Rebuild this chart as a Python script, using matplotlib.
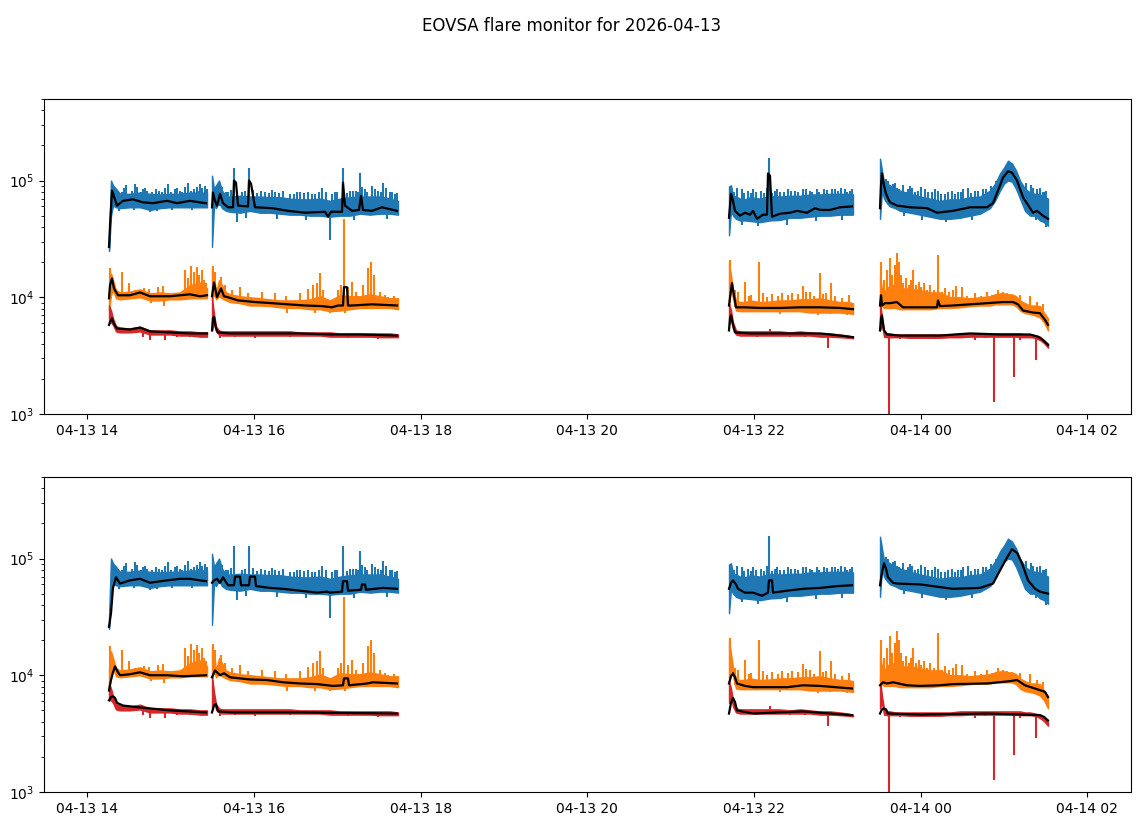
import numpy as np
import matplotlib
matplotlib.use("Agg")
import matplotlib.pyplot as plt
import matplotlib.dates as mdates
from datetime import datetime

TITLE = "EOVSA flare monitor for 2026-04-13"
DAY0 = datetime(2026, 4, 13)          # times below are hours after this day's 00:00
X_RANGE_H = (13.48, 26.524)
Y_RANGE = (1e3, 5e5)

BLUE, ORANGE, RED = "#1f77b4", "#ff7f0e", "#d62728"

# ---- sampling grid (hours) for the four observing segments ----
grid_t = [
    [14.260, 14.284, 14.308, 14.344, 14.392, 14.512, 14.632, 14.752, 14.872, 14.992, 15.112, 15.232, 15.352, 15.436],
    [15.496, 15.520, 15.544, 15.580, 15.616, 15.664, 15.712, 15.832, 15.952, 16.072, 16.192, 16.312, 16.432, 16.552,
     16.672, 16.792, 16.912, 17.032, 17.152, 17.272, 17.392, 17.512, 17.632, 17.728],
    [21.700, 21.724, 21.748, 21.784, 21.832, 21.892, 21.952, 22.072, 22.192, 22.312, 22.432, 22.552, 22.672, 22.792,
     22.912, 23.032, 23.128, 23.188],
    [23.512, 23.536, 23.560, 23.596, 23.632, 23.692, 23.752, 23.872, 23.992, 24.112, 24.232, 24.352, 24.472, 24.592,
     24.712, 24.832, 24.892, 24.952, 25.000, 25.048, 25.096, 25.144, 25.192, 25.252, 25.312, 25.372, 25.432, 25.480, 25.528],
]

# ---- noise envelopes (upper / lower) of the three channels ----
blue_hi = [
    [3.1e4, 1.0e5, 9.1e4, 8.5e4, 7.7e4, 7.7e4, 7.9e4, 7.7e4, 7.6e4, 7.7e4, 7.7e4, 7.9e4, 7.9e4, 7.9e4],
    [1.1e5, 8.5e4, 9.1e4, 1.0e5, 8.2e4, 7.3e4, 7.3e4, 7.4e4, 7.3e4, 7.3e4, 7.2e4, 7.2e4, 7.0e4, 6.9e4, 6.9e4, 7.0e4,
     6.7e4, 7.0e4, 7.2e4, 7.3e4, 7.3e4, 7.3e4, 7.0e4, 6.7e4],
    [8.9e4, 9.1e4, 7.4e4, 7.3e4, 7.0e4, 6.9e4, 7.2e4, 7.0e4, 7.4e4, 7.3e4, 7.4e4, 7.4e4, 7.6e4, 7.6e4, 7.7e4, 7.7e4,
     7.7e4, 7.6e4],
    [1.54e5, 1.22e5, 9.6e4, 9.4e4, 9.1e4, 8.5e4, 8.2e4, 7.7e4, 7.3e4, 7.0e4, 6.7e4, 6.9e4, 6.9e4, 7.2e4, 7.3e4, 8.2e4,
     9.4e4, 1.15e5, 1.29e5, 1.48e5, 1.40e5, 1.22e5, 1.0e5, 8.5e4, 7.9e4, 7.7e4, 7.6e4, 7.3e4, 7.0e4],
]
blue_lo = [
    [2.5e4, 5.0e4, 6.1e4, 5.9e4, 5.8e4, 5.9e4, 5.9e4, 5.6e4, 5.8e4, 5.9e4, 5.9e4, 5.9e4, 5.9e4, 5.9e4],
    [2.7e4, 6.1e4, 5.8e4, 6.5e4, 5.8e4, 5.5e4, 5.4e4, 5.3e4, 5.5e4, 5.3e4, 5.3e4, 5.2e4, 5.1e4, 5.1e4, 5.0e4, 5.0e4,
     4.9e4, 5.0e4, 5.0e4, 5.2e4, 5.1e4, 5.2e4, 5.2e4, 5.1e4],
    [3.4e4, 5.5e4, 5.0e4, 4.7e4, 4.55e4, 4.55e4, 4.5e4, 4.4e4, 4.55e4, 4.6e4, 4.8e4, 4.8e4, 4.9e4, 5.0e4, 5.0e4, 5.1e4,
     5.1e4, 5.1e4],
    [4.7e4, 8.2e4, 7.0e4, 6.4e4, 6.0e4, 5.8e4, 5.5e4, 5.3e4, 5.1e4, 4.9e4, 4.7e4, 4.7e4, 4.8e4, 5.0e4, 5.2e4, 5.8e4,
     6.7e4, 8.2e4, 9.4e4, 1.0e5, 9.8e4, 8.5e4, 7.0e4, 5.5e4, 5.0e4, 5.0e4, 4.55e4, 4.4e4, 4.1e4],
]
orange_hi = [
    [1.15e4, 1.6e4, 1.4e4, 1.15e4, 1.1e4, 1.12e4, 1.17e4, 1.08e4, 1.1e4, 1.08e4, 1.1e4, 1.27e4, 1.34e4, 1.19e4],
    [1.77e4, 1.51e4, 1.1e4, 1.4e4, 1.27e4, 1.1e4, 1.06e4, 1.02e4, 1.0e4, 9.8e3, 9.6e3, 9.4e3, 9.4e3, 9.4e3, 9.6e3,
     1.02e4, 9.4e3, 1.04e4, 1.02e4, 1.02e4, 1.06e4, 1.02e4, 9.8e3, 9.8e3],
    [2.0e4, 1.54e4, 1.15e4, 9.4e3, 9.1e3, 9.1e3, 9.4e3, 9.1e3, 9.2e3, 9.4e3, 9.4e3, 9.6e3, 9.6e3, 9.8e3, 9.4e3, 9.1e3,
     9.1e3, 8.9e3],
    [1.54e4, 1.15e4, 1.1e4, 1.19e4, 1.27e4, 1.27e4, 1.19e4, 1.19e4, 1.15e4, 1.1e4, 1.1e4, 1.0e4, 1.0e4, 9.8e3, 1.0e4,
     1.02e4, 1.06e4, 1.08e4, 1.08e4, 1.06e4, 1.06e4, 1.02e4, 9.4e3, 8.9e3, 8.5e3, 8.5e3, 8.4e3, 7.4e3, 6.6e3],
]
orange_lo = [
    [7.7e3, 1.04e4, 1.15e4, 9.8e3, 9.6e3, 9.8e3, 1.0e4, 9.4e3, 9.4e3, 9.6e3, 9.6e3, 9.8e3, 9.8e3, 9.8e3],
    [9.4e3, 1.1e4, 9.6e3, 1.02e4, 9.8e3, 9.4e3, 9.1e3, 8.9e3, 8.5e3, 8.5e3, 8.4e3, 8.2e3, 8.1e3, 8.1e3, 7.9e3, 7.9e3,
     7.6e3, 7.7e3, 7.9e3, 8.1e3, 8.1e3, 8.1e3, 8.1e3, 7.9e3],
    [9.4e3, 1.15e4, 9.8e3, 7.7e3, 7.6e3, 7.6e3, 7.6e3, 7.6e3, 7.6e3, 7.6e3, 7.6e3, 7.6e3, 7.4e3, 7.4e3, 7.4e3, 7.4e3,
     7.3e3, 7.2e3],
    [9.4e3, 8.4e3, 8.1e3, 8.1e3, 8.1e3, 8.1e3, 7.9e3, 7.9e3, 7.9e3, 7.9e3, 8.1e3, 8.1e3, 8.2e3, 8.4e3, 8.5e3, 8.5e3,
     8.7e3, 8.7e3, 8.7e3, 8.7e3, 8.7e3, 8.4e3, 7.7e3, 7.3e3, 7.2e3, 7.0e3, 6.7e3, 6.1e3, 5.2e3],
]
red_hi = [
    [8.5e3, 7.7e3, 6.6e3, 5.65e3, 5.5e3, 5.4e3, 5.6e3, 5.2e3, 5.2e3, 5.2e3, 5.1e3, 5.1e3, 5.0e3, 5.0e3],
    [1.0e4, 7.2e3, 5.65e3, 5.2e3, 5.1e3, 5.1e3, 5.1e3, 5.1e3, 5.1e3, 5.1e3, 5.1e3, 5.1e3, 5.1e3, 5.0e3, 5.0e3, 5.0e3,
     5.0e3, 4.9e3, 4.9e3, 4.9e3, 4.9e3, 4.9e3, 4.9e3, 4.8e3],
    [8.9e3, 7.7e3, 6.1e3, 5.2e3, 5.1e3, 5.1e3, 5.1e3, 5.1e3, 5.1e3, 5.1e3, 5.0e3, 5.1e3, 5.0e3, 4.9e3, 4.9e3, 4.8e3,
     4.7e3, 4.6e3],
    [9.4e3, 6.6e3, 5.2e3, 4.9e3, 4.9e3, 4.8e3, 4.8e3, 4.8e3, 4.8e3, 4.8e3, 4.8e3, 4.8e3, 4.9e3, 4.9e3, 4.9e3, 4.9e3,
     4.9e3, 4.9e3, 4.9e3, 4.9e3, 4.9e3, 4.9e3, 4.9e3, 4.8e3, 4.8e3, 4.7e3, 4.6e3, 4.3e3, 4.0e3],
]
red_lo = [
    [6.1e3, 6.1e3, 5.8e3, 5.1e3, 5.0e3, 5.0e3, 5.1e3, 4.8e3, 4.8e3, 4.8e3, 4.7e3, 4.7e3, 4.6e3, 4.6e3],
    [5.2e3, 6.1e3, 5.1e3, 4.8e3, 4.7e3, 4.7e3, 4.7e3, 4.7e3, 4.7e3, 4.7e3, 4.7e3, 4.7e3, 4.7e3, 4.7e3, 4.7e3, 4.7e3,
     4.6e3, 4.6e3, 4.6e3, 4.6e3, 4.6e3, 4.55e3, 4.55e3, 4.55e3],
    [5.8e3, 6.6e3, 5.4e3, 4.8e3, 4.7e3, 4.7e3, 4.7e3, 4.7e3, 4.7e3, 4.7e3, 4.7e3, 4.7e3, 4.7e3, 4.6e3, 4.6e3, 4.55e3,
     4.5e3, 4.45e3],
    [5.2e3, 5.8e3, 4.6e3, 4.55e3, 4.55e3, 4.55e3, 4.55e3, 4.5e3, 4.5e3, 4.5e3, 4.5e3, 4.55e3, 4.55e3, 4.6e3, 4.6e3,
     4.6e3, 4.6e3, 4.6e3, 4.6e3, 4.6e3, 4.6e3, 4.6e3, 4.55e3, 4.55e3, 4.55e3, 4.5e3, 4.3e3, 4.05e3, 3.7e3],
]

# ---- individual spikes: (time h, band level, spike tip) ----
blue_spikes = [
    (14.464, 6.5e4, 9.1e4), (14.572, 6.5e4, 9.4e4), (14.668, 6.5e4, 8.5e4), (14.716, 6.5e4, 8.2e4),
    (14.752, 6.5e4, 5.4e4), (14.860, 6.5e4, 8.2e4), (14.968, 6.5e4, 9.4e4), (15.052, 6.5e4, 8.4e4),
    (15.112, 6.5e4, 8.2e4), (15.208, 6.5e4, 9.6e4), (15.280, 6.5e4, 8.5e4), (15.352, 6.5e4, 9.4e4),
    (15.412, 6.5e4, 8.9e4),
    (14.300, 6.5e4, 9.6e4), (14.360, 6.5e4, 8.3e4), (14.410, 6.5e4, 8.0e4), (14.440, 6.5e4, 8.6e4),
    (14.530, 6.5e4, 8.1e4), (14.600, 6.5e4, 8.8e4), (14.640, 6.5e4, 8.0e4), (14.690, 6.5e4, 8.6e4),
    (14.780, 6.5e4, 8.0e4), (14.820, 6.5e4, 8.4e4), (14.900, 6.5e4, 8.0e4), (14.930, 6.5e4, 8.6e4),
    (15.000, 6.5e4, 8.0e4), (15.080, 6.5e4, 8.7e4), (15.140, 6.5e4, 8.0e4), (15.170, 6.5e4, 8.8e4),
    (15.240, 6.5e4, 8.2e4), (15.310, 6.5e4, 8.8e4), (15.330, 6.5e4, 8.1e4), (15.380, 6.5e4, 8.6e4),
    (15.430, 6.5e4, 8.4e4), (14.380, 6.5e4, 5.5e4), (14.560, 6.5e4, 5.6e4), (14.840, 6.5e4, 5.5e4),
    (15.020, 6.5e4, 5.6e4), (15.260, 6.5e4, 5.6e4),
    (15.592, 6.0e4, 9.4e4), (15.688, 6.0e4, 7.9e4), (15.760, 6.0e4, 1.27e5), (15.796, 6.0e4, 4.4e4),
    (15.892, 6.0e4, 8.2e4), (15.940, 6.0e4, 1.27e5), (16.132, 6.0e4, 8.0e4), (16.252, 6.0e4, 7.9e4),
    (16.432, 5.8e4, 7.7e4), (16.552, 5.8e4, 7.9e4), (16.732, 5.8e4, 7.6e4), (16.816, 5.8e4, 8.7e4),
    (16.864, 5.8e4, 7.9e4), (16.912, 5.6e4, 3.1e4), (16.972, 5.8e4, 7.9e4), (17.068, 5.8e4, 1.27e5),
    (17.152, 5.8e4, 8.2e4), (17.224, 5.8e4, 8.2e4), (17.272, 5.8e4, 1.15e5), (17.332, 5.8e4, 8.5e4),
    (17.416, 5.8e4, 8.9e4), (17.488, 5.8e4, 8.2e4), (17.548, 5.8e4, 9.6e4), (17.632, 5.8e4, 7.9e4),
    (17.692, 5.8e4, 7.6e4),
    (15.620, 6.0e4, 8.8e4), (15.660, 6.0e4, 8.0e4), (15.720, 6.0e4, 8.3e4), (15.850, 6.0e4, 8.0e4),
    (15.990, 6.0e4, 8.3e4), (16.030, 6.0e4, 7.8e4), (16.080, 6.0e4, 8.2e4), (16.180, 6.0e4, 7.8e4),
    (16.210, 6.0e4, 8.3e4), (16.300, 5.8e4, 7.8e4), (16.350, 5.8e4, 8.1e4), (16.480, 5.8e4, 7.7e4),
    (16.510, 5.8e4, 8.0e4), (16.600, 5.8e4, 7.8e4), (16.650, 5.8e4, 8.0e4), (16.690, 5.8e4, 7.6e4),
    (16.780, 5.8e4, 8.0e4), (16.940, 5.8e4, 7.6e4), (17.000, 5.8e4, 8.0e4), (17.110, 5.8e4, 7.8e4),
    (17.190, 5.8e4, 8.2e4), (17.250, 5.8e4, 8.0e4), (17.300, 5.8e4, 8.8e4), (17.360, 5.8e4, 8.0e4),
    (17.450, 5.8e4, 8.4e4), (17.520, 5.8e4, 8.0e4), (17.580, 5.8e4, 8.6e4), (17.660, 5.8e4, 8.0e4),
    (17.710, 5.8e4, 7.8e4), (15.900, 5.8e4, 4.8e4), (16.280, 5.8e4, 4.7e4), (16.620, 5.8e4, 4.6e4),
    (17.200, 5.8e4, 4.6e4), (17.600, 5.8e4, 4.7e4),
    (21.856, 5.5e4, 8.5e4), (21.928, 5.5e4, 8.2e4), (21.988, 5.5e4, 8.5e4), (22.084, 5.5e4, 8.2e4),
    (22.180, 5.5e4, 1.57e5), (22.252, 5.5e4, 8.2e4), (22.312, 5.5e4, 7.9e4), (22.408, 5.5e4, 8.5e4),
    (22.492, 5.5e4, 8.2e4), (22.588, 5.5e4, 8.5e4), (22.672, 5.5e4, 8.2e4), (22.756, 5.5e4, 8.4e4),
    (22.840, 5.5e4, 8.5e4), (22.936, 5.5e4, 8.5e4), (23.008, 5.5e4, 8.2e4), (23.092, 5.5e4, 8.5e4),
    (23.152, 5.5e4, 8.2e4),
    (21.760, 5.5e4, 8.0e4), (21.800, 5.5e4, 8.6e4), (21.880, 5.5e4, 7.8e4), (21.960, 5.5e4, 7.8e4),
    (22.020, 5.5e4, 8.0e4), (22.120, 5.5e4, 7.8e4), (22.150, 5.5e4, 8.6e4), (22.220, 5.5e4, 7.8e4),
    (22.280, 5.5e4, 8.4e4), (22.360, 5.5e4, 7.9e4), (22.440, 5.5e4, 8.2e4), (22.530, 5.5e4, 8.0e4),
    (22.620, 5.5e4, 8.4e4), (22.700, 5.5e4, 8.0e4), (22.780, 5.5e4, 8.0e4), (22.880, 5.5e4, 8.3e4),
    (22.970, 5.5e4, 8.4e4), (23.040, 5.5e4, 8.6e4), (23.120, 5.5e4, 8.0e4), (23.170, 5.5e4, 8.4e4),
    (21.860, 5.5e4, 4.2e4), (22.050, 5.5e4, 4.1e4), (22.400, 5.5e4, 4.2e4), (22.740, 5.5e4, 4.5e4),
    (23.060, 5.5e4, 4.6e4),
    (23.584, 6.5e4, 1.04e5), (23.608, 6.5e4, 1.0e5), (23.668, 6.0e4, 9.4e4), (23.716, 6.0e4, 8.7e4),
    (23.788, 6.0e4, 9.1e4), (23.848, 6.0e4, 8.5e4), (23.896, 6.0e4, 8.7e4), (23.968, 5.8e4, 8.2e4),
    (24.052, 5.8e4, 8.5e4), (24.136, 5.5e4, 7.9e4), (24.208, 5.5e4, 8.2e4), (24.292, 5.5e4, 7.7e4),
    (24.376, 5.5e4, 8.2e4), (24.448, 5.5e4, 7.9e4), (24.508, 5.5e4, 8.5e4), (24.568, 5.8e4, 8.7e4),
    (24.652, 5.8e4, 8.2e4), (24.748, 5.8e4, 8.5e4), (25.324, 5.5e4, 9.1e4), (25.396, 5.5e4, 8.5e4),
    (25.468, 5.0e4, 7.9e4), (25.504, 5.0e4, 8.2e4),
    (23.640, 6.0e4, 9.0e4), (23.690, 6.0e4, 9.6e4), (23.740, 6.0e4, 8.4e4), (23.820, 6.0e4, 8.0e4),
    (23.870, 6.0e4, 9.0e4), (23.930, 6.0e4, 8.0e4), (24.000, 5.8e4, 8.8e4), (24.090, 5.8e4, 8.0e4),
    (24.170, 5.5e4, 8.4e4), (24.250, 5.5e4, 7.6e4), (24.330, 5.5e4, 8.0e4), (24.410, 5.5e4, 7.6e4),
    (24.480, 5.5e4, 8.0e4), (24.600, 5.8e4, 7.8e4), (24.690, 5.8e4, 8.2e4), (24.790, 5.8e4, 8.4e4),
    (24.840, 6.0e4, 9.0e4), (24.900, 7.0e4, 1.0e5), (25.270, 6.5e4, 9.6e4), (25.350, 5.5e4, 8.6e4),
    (25.430, 5.5e4, 8.6e4), (25.490, 5.0e4, 8.0e4),
    (23.800, 6.0e4, 5.0e4), (24.020, 5.8e4, 4.6e4), (24.300, 5.5e4, 4.4e4), (24.620, 5.8e4, 4.6e4),
    (25.380, 5.5e4, 4.6e4), (25.500, 5.0e4, 4.0e4),
]
orange_spikes = [
    (14.272, 1.0e4, 1.77e4), (14.416, 1.04e4, 1.64e4), (14.500, 1.04e4, 1.32e4), (14.572, 1.04e4, 1.15e4),
    (14.680, 1.04e4, 1.19e4), (14.704, 1.02e4, 9.4e3), (14.740, 1.04e4, 1.17e4), (14.764, 1.02e4, 8.9e3),
    (14.848, 1.02e4, 1.22e4), (14.908, 1.02e4, 1.24e4), (14.920, 1.02e4, 8.5e3), (15.172, 1.02e4, 1.7e4),
    (15.208, 1.02e4, 1.45e4), (15.244, 1.02e4, 1.84e4), (15.280, 1.02e4, 1.64e4), (15.316, 1.02e4, 1.8e4),
    (15.340, 1.02e4, 1.54e4), (15.376, 1.02e4, 1.7e4), (15.400, 1.02e4, 1.4e4), (15.424, 1.02e4, 1.32e4),
    (15.508, 1.0e4, 1.84e4), (15.532, 1.0e4, 1.64e4), (15.604, 1.0e4, 1.48e4), (15.652, 1.0e4, 1.27e4),
    (15.736, 9.5e3, 1.15e4), (15.832, 9.4e3, 1.22e4), (15.928, 9.2e3, 1.08e4), (16.096, 9.0e3, 1.1e4),
    (16.252, 8.9e3, 1.08e4), (16.384, 8.7e3, 1.02e4), (16.396, 8.7e3, 7.4e3), (16.552, 8.5e3, 1.08e4),
    (16.648, 8.5e3, 1.17e4), (16.708, 8.5e3, 1.27e4), (16.732, 8.5e3, 7.4e3), (16.756, 8.4e3, 1.32e4),
    (16.792, 8.4e3, 1.6e4), (16.828, 8.4e3, 1.15e4), (16.912, 8.2e3, 7.3e3), (17.008, 8.5e3, 1.15e4),
    (17.044, 8.5e3, 1.27e4), (17.080, 8.5e3, 4.7e4), (17.092, 8.5e3, 7.4e3), (17.128, 8.5e3, 1.22e4),
    (17.176, 8.5e3, 1.34e4), (17.224, 8.5e3, 1.1e4), (17.308, 8.5e3, 1.27e4), (17.368, 8.6e3, 1.77e4),
    (17.404, 8.6e3, 2.0e4), (17.440, 8.6e3, 1.54e4), (17.512, 8.6e3, 1.1e4), (17.572, 8.6e3, 1.04e4),
    (17.608, 8.6e3, 1.0e4), (17.680, 8.5e3, 1.02e4),
    (21.712, 9.0e3, 2.07e4), (21.772, 8.2e3, 1.15e4), (21.808, 8.2e3, 1.1e4), (21.892, 8.2e3, 1.34e4),
    (21.940, 8.2e3, 1.02e4), (21.964, 8.2e3, 1.04e4), (22.060, 8.1e3, 2.0e4), (22.108, 8.1e3, 1.08e4),
    (22.156, 8.1e3, 1.0e4), (22.216, 8.1e3, 1.06e4), (22.288, 8.1e3, 1.02e4), (22.312, 8.1e3, 7.2e3),
    (22.336, 8.1e3, 1.08e4), (22.408, 8.1e3, 1.04e4), (22.456, 8.1e3, 1.08e4), (22.528, 8.2e3, 1.06e4),
    (22.588, 8.2e3, 1.24e4), (22.624, 8.2e3, 1.12e4), (22.672, 8.2e3, 1.1e4), (22.720, 8.2e3, 1.02e4),
    (22.768, 8.2e3, 7.0e3), (22.792, 8.2e3, 1.6e4), (22.828, 8.2e3, 1.06e4), (22.864, 8.2e3, 1.08e4),
    (22.912, 8.2e3, 7.2e3), (22.924, 8.2e3, 1.32e4), (22.972, 8.1e3, 1.02e4), (23.056, 8.1e3, 9.8e3),
    (23.116, 8.0e3, 7.0e3), (23.140, 8.0e3, 1.04e4),
    (23.524, 8.5e3, 2.0e4), (23.560, 8.5e3, 1.4e4), (23.596, 8.7e3, 1.7e4), (23.632, 8.7e3, 2.15e4),
    (23.656, 8.7e3, 1.54e4), (23.692, 8.7e3, 1.88e4), (23.716, 8.7e3, 2.4e4), (23.740, 8.7e3, 2.0e4),
    (23.764, 8.5e3, 1.54e4), (23.788, 8.3e3, 1.32e4), (23.824, 8.3e3, 1.45e4), (23.860, 8.3e3, 1.27e4),
    (23.884, 8.3e3, 1.4e4), (23.908, 8.3e3, 1.7e4), (23.944, 8.3e3, 1.27e4), (23.980, 8.3e3, 1.34e4),
    (24.004, 8.3e3, 1.22e4), (24.040, 8.3e3, 1.32e4), (24.076, 8.3e3, 1.15e4), (24.112, 8.3e3, 1.27e4),
    (24.160, 8.3e3, 1.15e4), (24.208, 8.5e3, 2.3e4), (24.256, 8.4e3, 1.1e4), (24.292, 8.4e3, 1.19e4),
    (24.340, 8.5e3, 1.1e4), (24.388, 8.5e3, 1.15e4), (24.424, 8.5e3, 1.24e4), (24.496, 8.6e3, 1.22e4),
    (24.556, 8.7e3, 1.02e4), (24.652, 8.8e3, 1.08e4), (24.724, 8.8e3, 1.02e4), (24.796, 8.9e3, 1.1e4),
    (24.856, 8.9e3, 1.04e4), (24.928, 9.0e3, 1.15e4), (24.988, 9.0e3, 1.1e4), (25.036, 9.0e3, 1.08e4),
    (25.096, 9.0e3, 1.0e4), (25.192, 8.0e3, 1.04e4), (25.312, 7.4e3, 1.02e4), (25.396, 7.3e3, 9.1e3),
    (25.468, 6.8e3, 8.7e3),
]
red_spikes = [
    (14.668, 5.2e3, 4.6e3), (14.752, 5.0e3, 4.3e3), (14.932, 5.0e3, 4.3e3), (15.076, 5.0e3, 4.55e3),
    (15.232, 4.9e3, 4.55e3), (15.412, 4.9e3, 4.55e3),
    (15.592, 4.9e3, 4.5e3), (15.772, 4.9e3, 4.55e3), (16.012, 4.9e3, 4.5e3), (16.432, 4.9e3, 4.6e3),
    (16.852, 4.8e3, 4.55e3), (17.128, 4.8e3, 4.5e3), (17.488, 4.8e3, 4.4e3), (17.656, 4.7e3, 4.5e3),
    (22.036, 4.9e3, 4.55e3), (22.192, 4.9e3, 5.4e3), (22.432, 4.9e3, 4.55e3), (22.612, 4.9e3, 4.6e3),
    (22.888, 4.8e3, 3.7e3), (23.032, 4.7e3, 4.5e3),
    (23.620, 4.8e3, 5.0e2), (23.752, 4.7e3, 4.4e3), (23.896, 4.7e3, 4.5e3), (24.172, 4.7e3, 4.4e3),
    (24.412, 4.7e3, 4.5e3), (24.652, 4.8e3, 4.3e3), (24.772, 4.8e3, 4.5e3), (24.880, 4.8e3, 1.27e3),
    (25.120, 4.8e3, 2.07e3), (25.192, 4.8e3, 4.3e3), (25.384, 4.7e3, 2.9e3),
]

# ---- black trend curves, upper panel (time h, value) per segment ----
top_black_blue = [
    [(14.260, 2.7e4), (14.272, 4.1e4), (14.296, 8.2e4), (14.320, 7.3e4), (14.356, 6.1e4), (14.428, 6.7e4),
     (14.548, 6.9e4), (14.668, 6.5e4), (14.788, 6.4e4), (14.956, 6.7e4), (15.076, 6.4e4), (15.232, 6.7e4),
     (15.352, 6.5e4), (15.424, 6.4e4)],
    [(15.496, 5.9e4), (15.508, 7.9e4), (15.532, 6.7e4), (15.556, 6.1e4), (15.592, 7.7e4), (15.628, 6.4e4),
     (15.688, 5.9e4), (15.748, 5.9e4), (15.760, 1.0e5), (15.784, 9.6e4), (15.808, 6.1e4), (15.928, 6.0e4),
     (15.940, 1.0e5), (15.964, 9.4e4), (16.012, 5.9e4), (16.216, 5.8e4), (16.408, 5.5e4), (16.612, 5.3e4),
     (16.852, 5.4e4), (16.888, 4.9e4), (16.924, 5.4e4), (17.056, 5.4e4), (17.068, 9.6e4), (17.092, 6.1e4),
     (17.176, 5.5e4), (17.260, 5.6e4), (17.284, 7.4e4), (17.308, 5.6e4), (17.416, 5.5e4), (17.536, 5.9e4),
     (17.716, 5.5e4)],
    [(21.700, 4.8e4), (21.724, 7.7e4), (21.748, 6.7e4), (21.772, 5.5e4), (21.832, 5.0e4), (21.892, 5.3e4),
     (21.952, 5.1e4), (21.988, 5.5e4), (22.036, 4.7e4), (22.108, 5.1e4), (22.156, 5.1e4), (22.168, 1.15e5),
     (22.192, 1.1e5), (22.216, 4.9e4), (22.312, 5.2e4), (22.432, 5.3e4), (22.516, 5.5e4), (22.636, 5.3e4),
     (22.732, 5.8e4), (22.792, 5.6e4), (22.912, 5.6e4), (23.032, 5.9e4), (23.176, 6.0e4)],
    [(23.512, 5.8e4), (23.524, 9.1e4), (23.536, 1.15e5), (23.560, 9.1e4), (23.584, 7.7e4), (23.632, 6.5e4),
     (23.716, 6.1e4), (23.872, 5.9e4), (24.076, 5.8e4), (24.196, 5.3e4), (24.388, 5.5e4), (24.592, 5.9e4),
     (24.796, 5.9e4), (24.868, 6.4e4), (24.928, 8.2e4), (24.988, 1.06e5), (25.048, 1.2e5), (25.096, 1.17e5),
     (25.156, 1.0e5), (25.228, 7.2e4), (25.312, 5.8e4), (25.348, 5.3e4), (25.396, 5.5e4), (25.468, 5.0e4),
     (25.528, 4.7e4)],
]
top_black_orange = [
    [(14.260, 9.8e3), (14.272, 1.27e4), (14.296, 1.45e4), (14.320, 1.19e4), (14.368, 1.04e4), (14.512, 1.04e4),
     (14.632, 1.1e4), (14.752, 1.02e4), (14.992, 1.02e4), (15.232, 1.06e4), (15.352, 1.02e4), (15.436, 1.04e4)],
    [(15.496, 1.02e4), (15.520, 1.34e4), (15.556, 1.0e4), (15.604, 1.19e4), (15.640, 1.02e4), (15.688, 1.0e4),
     (15.808, 9.4e3), (16.012, 9.1e3), (16.216, 8.9e3), (16.408, 8.7e3), (16.612, 8.5e3), (16.816, 8.4e3),
     (16.936, 8.2e3), (17.008, 8.5e3), (17.068, 8.5e3), (17.080, 1.22e4), (17.116, 1.22e4), (17.128, 8.5e3),
     (17.176, 8.5e3), (17.416, 8.7e3), (17.716, 8.5e3)],
    [(21.700, 8.5e3), (21.724, 1.15e4), (21.736, 1.32e4), (21.760, 1.04e4), (21.784, 8.2e3), (21.892, 8.2e3),
     (22.072, 8.1e3), (22.312, 8.1e3), (22.552, 8.2e3), (22.792, 8.2e3), (23.032, 8.1e3), (23.188, 7.9e3)],
    [(23.512, 8.5e3), (23.524, 1.04e4), (23.536, 8.5e3), (23.572, 8.9e3), (23.632, 8.9e3), (23.716, 9.1e3),
     (23.788, 8.2e3), (23.992, 8.2e3), (24.196, 8.2e3), (24.208, 9.4e3), (24.232, 8.4e3), (24.388, 8.5e3),
     (24.592, 8.7e3), (24.796, 8.9e3), (24.988, 9.1e3), (25.108, 9.1e3), (25.168, 8.7e3), (25.228, 7.7e3),
     (25.348, 7.4e3), (25.432, 7.3e3), (25.492, 6.4e3), (25.528, 5.8e3)],
]
top_black_red = [
    [(14.260, 5.8e3), (14.272, 6.1e3), (14.296, 6.6e3), (14.320, 5.9e3), (14.356, 5.4e3), (14.512, 5.3e3),
     (14.632, 5.5e3), (14.752, 5.1e3), (14.992, 5.0e3), (15.232, 4.9e3), (15.436, 4.9e3)],
    [(15.496, 5.2e3), (15.508, 6.6e3), (15.520, 6.8e3), (15.544, 5.4e3), (15.568, 5.0e3), (15.712, 4.9e3),
     (16.072, 4.9e3), (16.552, 4.9e3), (16.912, 4.8e3), (17.272, 4.8e3), (17.716, 4.7e3)],
    [(21.700, 5.2e3), (21.712, 6.6e3), (21.724, 7.0e3), (21.748, 5.8e3), (21.772, 5.0e3), (21.952, 4.9e3),
     (22.432, 4.9e3), (22.792, 4.9e3), (23.032, 4.7e3), (23.188, 4.55e3)],
    [(23.512, 5.2e3), (23.524, 6.6e3), (23.536, 7.0e3), (23.560, 5.2e3), (23.596, 4.8e3), (23.752, 4.7e3),
     (24.232, 4.7e3), (24.592, 4.9e3), (24.952, 4.8e3), (25.312, 4.8e3), (25.408, 4.6e3), (25.468, 4.3e3),
     (25.528, 3.9e3)],
]

# ---- black trend curves, lower panel (smoothed) ----
bot_black_blue = [
    [(14.260, 2.6e4), (14.284, 3.4e4), (14.296, 4.4e4), (14.308, 5.6e4), (14.344, 6.9e4), (14.392, 6.1e4),
     (14.512, 6.5e4), (14.632, 6.7e4), (14.752, 6.2e4), (14.956, 6.5e4), (15.112, 6.7e4), (15.232, 6.7e4),
     (15.352, 6.5e4), (15.424, 6.4e4)],
    [(15.496, 6.2e4), (15.520, 6.5e4), (15.556, 6.7e4), (15.592, 6.2e4), (15.628, 6.9e4), (15.688, 5.9e4),
     (15.760, 5.9e4), (15.772, 7.0e4), (15.832, 7.0e4), (15.844, 5.9e4), (15.940, 5.9e4), (15.952, 7.0e4),
     (16.012, 7.0e4), (16.024, 5.8e4), (16.192, 5.6e4), (16.348, 5.5e4), (16.552, 5.3e4), (16.756, 5.1e4),
     (16.876, 5.2e4), (16.912, 5.1e4), (17.056, 5.2e4), (17.068, 6.4e4), (17.116, 6.4e4), (17.128, 5.3e4),
     (17.284, 5.4e4), (17.296, 6.0e4), (17.332, 6.0e4), (17.344, 5.4e4), (17.548, 5.6e4), (17.716, 5.5e4)],
    [(21.700, 5.5e4), (21.724, 6.2e4), (21.748, 6.5e4), (21.784, 6.0e4), (21.808, 5.5e4), (21.892, 5.1e4),
     (21.988, 5.1e4), (22.096, 4.8e4), (22.168, 5.1e4), (22.180, 6.5e4), (22.216, 6.5e4), (22.228, 5.1e4),
     (22.396, 5.3e4), (22.588, 5.5e4), (22.792, 5.6e4), (22.996, 5.8e4), (23.176, 5.9e4)],
    [(23.512, 5.9e4), (23.536, 7.6e4), (23.560, 9.1e4), (23.584, 8.2e4), (23.608, 6.9e4), (23.668, 6.2e4),
     (23.716, 6.1e4), (23.992, 6.0e4), (24.388, 5.5e4), (24.712, 5.6e4), (24.868, 6.1e4), (24.952, 7.9e4),
     (25.036, 1.02e5), (25.096, 1.2e5), (25.156, 1.12e5), (25.216, 9.1e4), (25.288, 6.5e4), (25.372, 5.5e4),
     (25.432, 5.2e4), (25.528, 5.0e4)],
]
bot_black_orange = [
    [(14.260, 7.4e3), (14.284, 9.1e3), (14.308, 1.06e4), (14.332, 1.19e4), (14.368, 1.06e4), (14.392, 1.0e4),
     (14.512, 1.02e4), (14.632, 1.06e4), (14.752, 1.0e4), (14.956, 1.0e4), (15.148, 9.8e3), (15.424, 1.0e4)],
    [(15.496, 9.6e3), (15.532, 1.1e4), (15.592, 1.0e4), (15.640, 1.04e4), (15.712, 9.6e3), (15.952, 9.2e3),
     (16.156, 9.1e3), (16.348, 8.7e3), (16.552, 8.5e3), (16.756, 8.4e3), (16.948, 8.1e3), (17.068, 8.2e3),
     (17.080, 9.4e3), (17.128, 9.4e3), (17.140, 8.2e3), (17.356, 8.5e3), (17.428, 8.7e3), (17.716, 8.5e3)],
    [(21.700, 8.5e3), (21.724, 9.8e3), (21.748, 1.04e4), (21.772, 9.6e3), (21.796, 8.5e3), (21.892, 8.1e3),
     (21.988, 7.9e3), (22.396, 7.9e3), (22.588, 8.2e3), (22.792, 8.1e3), (23.176, 7.7e3)],
    [(23.512, 8.2e3), (23.548, 8.7e3), (23.596, 8.5e3), (23.668, 8.7e3), (23.836, 8.2e3), (23.992, 8.1e3),
     (24.232, 8.2e3), (24.388, 8.4e3), (24.796, 8.5e3), (25.072, 8.9e3), (25.156, 9.1e3), (25.252, 8.2e3),
     (25.396, 7.6e3), (25.492, 7.2e3), (25.528, 6.5e3)],
]
bot_black_red = [
    [(14.260, 6.1e3), (14.284, 6.5e3), (14.308, 6.6e3), (14.332, 6.4e3), (14.356, 5.8e3), (14.428, 5.5e3),
     (14.632, 5.3e3), (14.992, 5.0e3), (15.424, 4.8e3)],
    [(15.496, 4.8e3), (15.520, 5.5e3), (15.544, 5.65e3), (15.568, 4.9e3), (15.748, 4.8e3), (16.552, 4.8e3),
     (17.716, 4.7e3)],
    [(21.700, 4.7e3), (21.724, 5.8e3), (21.748, 6.4e3), (21.772, 5.9e3), (21.796, 5.0e3), (21.988, 4.7e3),
     (22.588, 4.9e3), (23.176, 4.55e3)],
    [(23.512, 4.7e3), (23.536, 5.1e3), (23.560, 5.2e3), (23.584, 5.1e3), (23.608, 4.7e3), (23.992, 4.6e3),
     (24.796, 4.7e3), (25.432, 4.55e3), (25.480, 4.4e3), (25.528, 4.1e3)],
]


def tnum(hours):
    return mdates.date2num(DAY0) + np.asarray(hours, dtype=float) / 24.0


fig = plt.figure(figsize=(11.43, 8.26), dpi=100)
fig.suptitle(TITLE)
ax_top = fig.add_axes([0.0385, 0.4988, 0.9510, 0.3814])
ax_bot = fig.add_axes([0.0385, 0.0412, 0.9510, 0.3814])

channels = [
    (BLUE, blue_hi, blue_lo, blue_spikes),
    (ORANGE, orange_hi, orange_lo, orange_spikes),
    (RED, red_hi, red_lo, red_spikes),
]
panels = [
    (ax_top, [top_black_blue, top_black_orange, top_black_red]),
    (ax_bot, [bot_black_blue, bot_black_orange, bot_black_red]),
]

for ax, blacks in panels:
    for (color, hi, lo, spikes), black in zip(channels, blacks):
        for s in range(len(grid_t)):
            t = tnum(grid_t[s])
            ax.fill_between(t, lo[s], hi[s], facecolor=color, edgecolor=color, linewidth=1.0)
        st, sb, sp = zip(*spikes)
        ax.vlines(tnum(st), sb, sp, color=color, linewidth=1.5)
        for seg in black:
            bt, bv = zip(*seg)
            ax.plot(tnum(bt), bv, color="k", linewidth=1.6)
    ax.set_yscale("log")
    ax.set_ylim(*Y_RANGE)
    ax.set_xlim(tnum(X_RANGE_H[0]), tnum(X_RANGE_H[1]))
    ax.xaxis.set_major_locator(mdates.HourLocator(byhour=range(0, 24, 2)))
    ax.xaxis.set_major_formatter(mdates.DateFormatter("%m-%d %H"))

fig.savefig("out.png", dpi=100)
